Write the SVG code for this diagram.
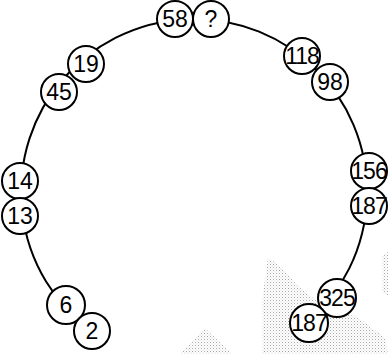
<svg xmlns="http://www.w3.org/2000/svg" width="388" height="354" viewBox="0 0 388 354">
<style>
.n circle{fill:#fff;stroke:#000;stroke-width:2}
.n text{font-family:"Liberation Sans",Arial,sans-serif;font-size:23px;text-anchor:middle;fill:#000}
.n text.w{letter-spacing:-1px}
.edge{fill:none;stroke:#000;stroke-width:2}
.shade{fill:url(#dots)}
</style>
<defs>
<pattern id="dots" width="3" height="3" patternUnits="userSpaceOnUse">
<rect x="0" y="0" width="1" height="1" fill="#a8a8a8"/>
<rect x="1.5" y="1.5" width="1" height="1" fill="#cfcfcf"/>
</pattern>
</defs>
<rect width="388" height="354" fill="#fff"/>
<g id="shading">
<polygon class="shade" points="268,258 278,264 298,286 318,302 340,314 356,316 385,338 388,354 262,354 262,300"/>
<polygon class="shade" points="180,354 205,328 232,354"/>
<polygon class="shade" points="382,256 388,252 388,296 382,292"/>
</g>
<g id="connectors">
<path class="edge" d="M 308.2 322 A 173 173 0 1 0 91.6 331.4"/>
</g>
<g id="n58" class="n"><circle cx="175" cy="19" r="18"/><text x="175" y="27">58</text></g>
<g id="nq" class="n"><circle cx="211" cy="19" r="18"/><text x="211" y="27">?</text></g>
<g id="n19" class="n"><circle cx="86" cy="64" r="18"/><text x="86" y="72">19</text></g>
<g id="n45" class="n"><circle cx="59" cy="92" r="18"/><text x="59" y="100">45</text></g>
<g id="n118" class="n"><circle cx="302" cy="56" r="18"/><text class="w" x="302" y="64">118</text></g>
<g id="n98" class="n"><circle cx="330" cy="82" r="18"/><text x="330" y="90">98</text></g>
<g id="n14" class="n"><circle cx="20" cy="181" r="18"/><text x="20" y="189">14</text></g>
<g id="n13" class="n"><circle cx="20" cy="216" r="18"/><text x="20" y="224">13</text></g>
<g id="n156" class="n"><circle cx="369" cy="171" r="18"/><text class="w" x="369" y="179">156</text></g>
<g id="n187a" class="n"><circle cx="369" cy="206" r="18"/><text class="w" x="369" y="214">187</text></g>
<g id="n6" class="n"><circle cx="66" cy="305" r="19"/><text x="66" y="313">6</text></g>
<g id="n2" class="n"><circle cx="92" cy="331" r="18"/><text x="92" y="339">2</text></g>
<g id="n325" class="n"><circle cx="337" cy="298" r="19"/><text class="w" x="337" y="306">325</text></g>
<g id="n187b" class="n"><circle cx="309" cy="323" r="19"/><text class="w" x="309" y="331">187</text></g>
</svg>
